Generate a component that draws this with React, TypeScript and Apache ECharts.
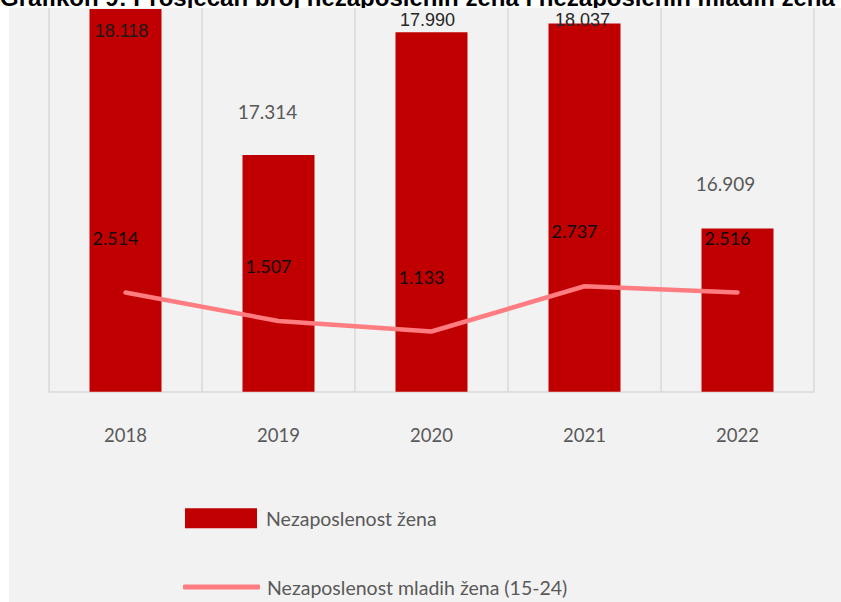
import React, { useEffect, useRef } from "react";
import * as echarts from "echarts";

const years = ["2018", "2019", "2020", "2021", "2022"];
const womenUnemployed = [18118, 17314, 17990, 18037, 16909];
const youngWomenUnemployed = [2514, 1507, 1133, 2737, 2516];
const barName = "Nezaposlenost žena";
const lineName = "Nezaposlenost mladih žena (15-24)";
const titleText =
  "Grafikon 9: Prosječan broj nezaposlenih žena i nezaposlenih mladih žena (15-24)";

const fmt = (v: number) => {
  const s = String(Math.round(v));
  return s.length > 3 ? s.slice(0, s.length - 3) + "." + s.slice(s.length - 3) : s;
};

// per-bar label placement (style only)
const barLabelStyles: any[] = [
  { position: "insideTop", distance: 13, offset: [-4, 0], fontFamily: "Liberation Sans", fontSize: 18, color: "#1a1a1a" },
  { position: "top", distance: 34, offset: [-11, 0], fontFamily: "Lato", fontSize: 19, color: "#595959" },
  { position: "top", distance: 3, offset: [-4, 0], fontFamily: "Liberation Sans", fontSize: 18, color: "#262626" },
  { position: "top", distance: -5, offset: [-2, 0], fontFamily: "Liberation Sans", fontSize: 18, color: "#262626" },
  { position: "top", distance: 35, offset: [-12, 0], fontFamily: "Lato", fontSize: 19, color: "#595959" },
];

export default function App() {
  const ref = useRef<HTMLDivElement>(null);
  useEffect(() => {
    if (!ref.current) return;
    const chart = echarts.init(ref.current, null, { renderer: "svg" });
    chart.setOption({
      animation: false,
      backgroundColor: "#ffffff",
      graphic: [
        {
          type: "text",
          z: -2,
          x: 0,
          y: -3,
          style: {
            text: titleText,
            font: "bold 24px 'Liberation Sans', Arial, sans-serif",
            fill: "#000000",
            verticalAlign: "middle",
            align: "left",
          },
        },
        {
          type: "rect",
          z: -1,
          shape: { x: 9, y: 8, width: 832, height: 594 },
          style: { fill: "#f2f2f2" },
        },
      ],
      grid: { left: 49, right: 27, top: 8, bottom: 210.3, containLabel: false },
      legend: [
        {
          orient: "vertical",
          left: 180,
          top: 503.2,
          itemWidth: 72,
          itemHeight: 20,
          icon: "rect",
          data: [barName],
          textStyle: { fontFamily: "Lato", fontSize: 19.5, color: "#595959", padding: [0, 0, 7, 4] },
        },
        {
          orient: "vertical",
          left: 178,
          top: 572,
          itemWidth: 77,
          itemHeight: 5,
          icon: "roundRect",
          data: [lineName],
          textStyle: { fontFamily: "Lato", fontSize: 19.5, color: "#595959", padding: [0, 0, 8, 2] },
        },
      ],
      xAxis: {
        type: "category",
        data: years,
        axisLine: { show: true, onZero: false, lineStyle: { color: "#d9d9d9", width: 1.5 } },
        axisTick: { show: false },
        splitLine: { show: true, interval: 0, lineStyle: { color: "#d9d9d9", width: 1.5 } },
        axisLabel: { color: "#595959", fontFamily: "Lato", fontSize: 18.5, margin: 34 },
      },
      yAxis: [
        { type: "value", min: 16010, max: 18123, show: false, splitLine: { show: false } },
        { type: "value", min: -1000, max: 12600, show: false, splitLine: { show: false } },
      ],
      series: [
        {
          name: barName,
          type: "bar",
          yAxisIndex: 0,
          barWidth: 72,
          itemStyle: { color: "#c00000" },
          data: womenUnemployed.map((v, i) => ({
            value: v,
            label: { show: true, formatter: () => fmt(v), ...barLabelStyles[i] },
          })),
        },
        {
          name: lineName,
          type: "line",
          yAxisIndex: 1,
          symbol: "circle",
          symbolSize: 2,
          itemStyle: { color: "#ff7c80" },
          lineStyle: { color: "#ff7c80", width: 4.5, cap: "round", join: "round" },
          label: {
            show: true,
            position: "top",
            distance: 45,
            offset: [-10, 0],
            fontFamily: "Lato",
            fontSize: 18,
            color: "#0d0d0d",
            formatter: (p: any) => fmt(p.value),
          },
          data: youngWomenUnemployed,
        },
      ],
    });
    return () => chart.dispose();
  }, []);
  return (
    <div
      ref={ref}
      style={{ position: "fixed", left: 0, top: 0, width: 841, height: 602 }}
    />
  );
}
